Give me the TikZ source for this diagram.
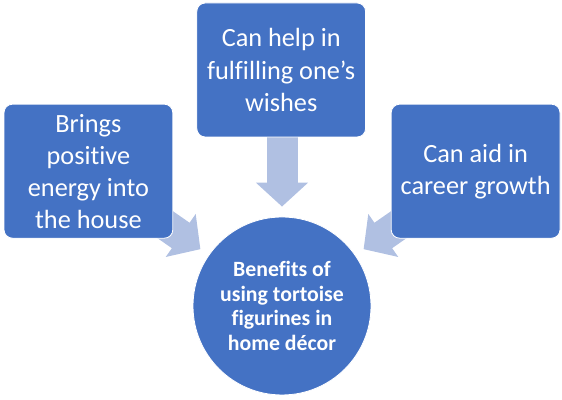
\documentclass[tikz,border=0pt]{standalone}
\usepackage{fontspec}
\setmainfont[Ligatures=NoCommon]{Carlito}
\usetikzlibrary{arrows.meta}
\definecolor{boxblue}{HTML}{4472C4}
\definecolor{arrowblue}{HTML}{B0C0E2}

\begin{document}
\begin{tikzpicture}[
    font=\fontsize{18.7}{22.8}\selectfont,
    benefit/.style={draw=white, fill=boxblue, text=white, rounded corners=6pt, line width=0.6pt, minimum width=4.22cm, minimum height=3.35cm, align=center, inner sep=2pt},
    hub/.style={circle, draw=white, fill=boxblue, text=white, line width=0.6pt, minimum size=4.45cm, align=center, font=\bfseries\fontsize{15.5}{17.4}\selectfont},
    fatarrow/.style={arrowblue, line width=0.775cm, -{Triangle[length=0.6cm, width=1.275cm]}, shorten >=0.25cm}
]
    \useasboundingbox (0,0) rectangle (14.05,10);

    % Centre circle
    \node[hub] (center) at (7.05, 2.35) {Benefits of\\using tortoise\\figurines in\\home d\'ecor};

    % Anchors for the arrows (behind the boxes)
    \coordinate (lefttail) at (2.21, 5.72);
    \coordinate (toptail) at (7.05, 6.57);
    \coordinate (righttail) at (11.89, 5.72);

    % Block arrows towards the centre
    \draw[fatarrow] (lefttail) -- (center);
    \draw[fatarrow] (toptail) -- (center);
    \draw[fatarrow] (righttail) -- (center);

    % Benefit boxes
    \node[benefit] (energy) at (2.21, 5.72) {Brings\\positive\\energy into\\the house};
    \node[benefit] (wishes) at (7.03, 8.25) {Can help in\\fulfilling one’s\\wishes};
    \node[benefit] (career) at (11.89, 5.72) {Can aid in\\career growth};

\end{tikzpicture}
\end{document}
